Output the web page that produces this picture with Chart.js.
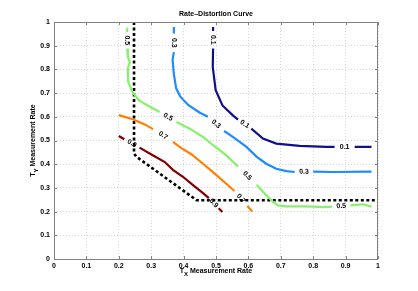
<!DOCTYPE html>
<html>
<head>
<meta charset="utf-8">
<script src="https://cdn.jsdelivr.net/npm/chart.js@4/dist/chart.umd.min.js"></script>
<style>
  body { margin: 0; background: #fff; }
</style>
</head>
<body>
<canvas id="rdChart" width="418" height="291"></canvas>
<script>
// tick labels
let xTicks = [0, 0.1, 0.2, 0.3, 0.4, 0.5, 0.6, 0.7, 0.8, 0.9, 1];
let yTicks = [0, 0.1, 0.2, 0.3, 0.4, 0.5, 0.6, 0.7, 0.8, 0.9, 1];

// contour levels, null = gap where the level label sits
let levels = ['0.1', '0.3', '0.5', '0.7', '0.9'];

let level01 = [[0.491, 0.979], [0.491, 0.962], null, [0.491, 0.888], [0.490, 0.81], [0.499, 0.712], [0.52, 0.648], [0.552, 0.606], [0.568, 0.588], null,
    [0.609, 0.55], [0.645, 0.508], [0.686, 0.487], [0.758, 0.477], [0.84, 0.473], [0.866, 0.473], null, [0.928, 0.473], [0.98, 0.473]];

let level03 = [[0.37, 0.979], [0.37, 0.951], null, [0.37, 0.873], [0.366, 0.84], [0.37, 0.78], [0.377, 0.72], [0.39, 0.685], [0.414, 0.65], [0.449, 0.618], [0.475, 0.6], null,
    [0.525, 0.54], [0.552, 0.515], [0.594, 0.473], [0.625, 0.432], [0.655, 0.402], [0.686, 0.381], [0.717, 0.371], [0.743, 0.367], null,
    [0.8, 0.369], [0.861, 0.367], [0.98, 0.369]];

let level05 = [[0.226, 0.976], [0.226, 0.958], null, [0.226, 0.888], [0.228, 0.853], [0.234, 0.831], [0.228, 0.803], [0.229, 0.747], [0.242, 0.705], [0.262, 0.669], [0.303, 0.637], [0.326, 0.62], null,
    [0.378, 0.578], [0.419, 0.55], [0.46, 0.515], [0.491, 0.48], [0.532, 0.437], [0.568, 0.39], null,
    [0.625, 0.313], [0.655, 0.269], [0.676, 0.241], [0.691, 0.226], [0.717, 0.222], [0.778, 0.222], [0.835, 0.219], [0.858, 0.221], null,
    [0.915, 0.226], [0.954, 0.231], [0.98, 0.221]];

let level07 = [[0.2, 0.607], [0.243, 0.59], [0.28, 0.568], [0.306, 0.548], null,
    [0.367, 0.494], [0.393, 0.468], [0.424, 0.442], [0.46, 0.402], [0.496, 0.36], [0.537, 0.311], [0.557, 0.287], null,
    [0.597, 0.224], [0.612, 0.2]];

let level09 = [[0.2, 0.519], [0.217, 0.505], null,
    [0.264, 0.47], [0.306, 0.437], [0.342, 0.409], [0.367, 0.376], [0.398, 0.347], [0.429, 0.312], [0.46, 0.278], [0.478, 0.257], null,
    [0.508, 0.214], [0.52, 0.198]];

// dotted boundary
let boundary = [[0.247, 1], [0.247, 0.445], [0.254, 0.432], [0.44, 0.248], [1, 0.248]];

let contourColors = ['#10108c', '#1e8cff', '#86f26a', '#ff7f00', '#800000'];

function toPoints(arr) {
    return arr.map(p => p ? {x: p[0], y: p[1]} : {x: null, y: null});
}

let contourData = [level01, level03, level05, level07, level09];
let datasets = contourData.map((arr, i) => ({
    label: levels[i],
    data: toPoints(arr),
    borderColor: contourColors[i],
    borderWidth: 2.2,
    pointRadius: 0,
    tension: 0,
    spanGaps: false,
    borderCapStyle: 'butt'
}));
datasets.push({
    label: 'boundary',
    data: toPoints(boundary),
    borderColor: '#000',
    borderWidth: 2.6,
    borderDash: [3, 2.5],
    pointRadius: 0,
    tension: 0,
    borderCapStyle: 'butt'
});

const font = '"Liberation Sans", Arial, sans-serif';

// labels, box, inward ticks, titles
let extras = {
    id: 'extras',
    afterDatasetsDraw(chart) {
        let ctx = chart.ctx;
        let xs = chart.scales.x, ys = chart.scales.y;
        let a = chart.chartArea;

        // contour labels in the gaps
        ctx.save();
        ctx.fillStyle = '#000';
        ctx.font = 'bold 7px ' + font;
        ctx.textAlign = 'center';
        ctx.textBaseline = 'middle';
        contourData.forEach((arr, i) => {
            for (let k = 1; k < arr.length - 1; k++) {
                if (arr[k] !== null || !arr[k - 1] || !arr[k + 1]) continue;
                let x1 = xs.getPixelForValue(arr[k - 1][0]), y1 = ys.getPixelForValue(arr[k - 1][1]);
                let x2 = xs.getPixelForValue(arr[k + 1][0]), y2 = ys.getPixelForValue(arr[k + 1][1]);
                let ang = Math.atan2(y2 - y1, x2 - x1);
                if (ang > Math.PI * 0.56) ang -= Math.PI;
                if (ang < -Math.PI * 0.44) ang += Math.PI;
                ctx.save();
                ctx.translate((x1 + x2) / 2, (y1 + y2) / 2);
                ctx.rotate(ang);
                ctx.fillText(levels[i], 0, 0);
                ctx.restore();
            }
        });
        ctx.restore();

        // box + inward ticks
        ctx.save();
        ctx.strokeStyle = '#808080';
        ctx.lineWidth = 1;
        ctx.strokeRect(a.left + 0.5, a.top + 0.5, a.right - a.left - 1, a.bottom - a.top);
        ctx.beginPath();
        xTicks.forEach(v => {
            let px = Math.round(xs.getPixelForValue(v)) + 0.5;
            ctx.moveTo(px, a.bottom); ctx.lineTo(px, a.bottom - 3);
            ctx.moveTo(px, a.top); ctx.lineTo(px, a.top + 3);
        });
        yTicks.forEach(v => {
            let py = Math.round(ys.getPixelForValue(v)) + 0.5;
            ctx.moveTo(a.left, py); ctx.lineTo(a.left + 3, py);
            ctx.moveTo(a.right, py); ctx.lineTo(a.right - 3, py);
        });
        ctx.stroke();
        ctx.restore();

        // title and axis titles (with subscripts)
        ctx.save();
        ctx.fillStyle = '#000';
        ctx.textBaseline = 'alphabetic';
        ctx.font = 'bold 7px ' + font;
        ctx.textAlign = 'center';
        ctx.fillText('Rate\u2013Distortion Curve', (a.left + a.right) / 2, 16);

        function subTitle(sub, cx, cy) {
            ctx.font = 'bold 7px ' + font;
            let wT = ctx.measureText('T').width;
            let wRest = ctx.measureText(' Measurement Rate').width;
            ctx.font = 'bold 6px ' + font;
            let wS = ctx.measureText(sub).width;
            let x0 = cx - (wT + wS + wRest) / 2;
            ctx.textAlign = 'left';
            ctx.font = 'bold 7px ' + font;
            ctx.fillText('T', x0, cy);
            ctx.font = 'bold 6px ' + font;
            ctx.fillText(sub, x0 + wT, cy + 3);
            ctx.font = 'bold 7px ' + font;
            ctx.fillText(' Measurement Rate', x0 + wT + wS, cy);
        }
        subTitle('X', (a.left + a.right) / 2, 273);
        ctx.translate(35, (a.top + a.bottom) / 2);
        ctx.rotate(-Math.PI / 2);
        subTitle('Y', 0, 0);
        ctx.restore();
    }
};

let ctx = document.getElementById('rdChart').getContext('2d');

var chart = new Chart(ctx, {
    type: 'line',
    data: { datasets: datasets },
    options: {
        responsive: false,
        animation: false,
        devicePixelRatio: 1,
        layout: { padding: { left: 0, right: 40, top: 22, bottom: 0 } },
        plugins: {
            legend: { display: false },
            tooltip: { enabled: false }
        },
        scales: {
            x: {
                type: 'linear',
                min: 0,
                max: 1,
                afterBuildTicks: s => { s.ticks = xTicks.map(v => ({value: v})); },
                afterFit: s => { s.height = 32; },
                ticks: {
                    color: '#000',
                    padding: 3,
                    maxRotation: 0,
                    font: { family: font, size: 7, weight: 'bold' },
                    callback: v => String(v)
                },
                grid: { color: '#d6d6d6', lineWidth: 1, drawTicks: false },
                border: { display: false, dash: [1, 2] }
            },
            y: {
                type: 'linear',
                min: 0,
                max: 1,
                afterBuildTicks: s => { s.ticks = yTicks.map(v => ({value: v})); },
                afterFit: s => { s.width = 54; },
                ticks: {
                    color: '#000',
                    padding: 4,
                    font: { family: font, size: 7, weight: 'bold' },
                    callback: v => String(v)
                },
                grid: { color: '#d6d6d6', lineWidth: 1, drawTicks: false },
                border: { display: false, dash: [1, 2] }
            }
        }
    },
    plugins: [extras]
});
</script>
</body>
</html>
